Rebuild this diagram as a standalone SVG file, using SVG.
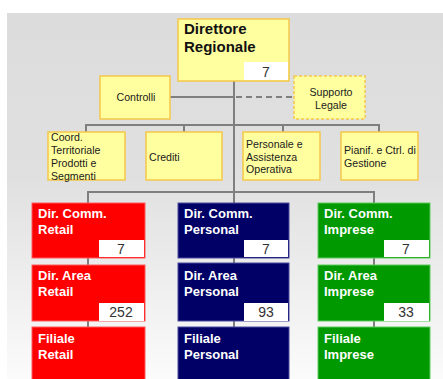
<svg xmlns="http://www.w3.org/2000/svg" width="443" height="379" viewBox="0 0 443 379">
<defs>
<linearGradient id="bg" x1="0" y1="0" x2="0" y2="1">
<stop offset="0" stop-color="#dcdcdc"/>
<stop offset="0.45" stop-color="#e0e0e0"/>
<stop offset="1" stop-color="#fbfbfb"/>
</linearGradient>
<style>
.y{fill:#ffffa0;stroke:#f5c84b;stroke-width:1.5}
.yd{fill:#ffffa0;stroke:#f5c84b;stroke-width:1.5;stroke-dasharray:3 2}
.t{font-family:"Liberation Sans",Arial,sans-serif;font-size:10.6px;fill:#1a1a1a}
.tc{font-family:"Liberation Sans",Arial,sans-serif;font-size:10.6px;fill:#1a1a1a;text-anchor:middle}
.h{font-family:"Liberation Sans",Arial,sans-serif;font-size:15px;font-weight:bold;fill:#111}
.w{font-family:"Liberation Sans",Arial,sans-serif;font-size:13px;font-weight:bold;fill:#fff}
.n{font-family:"Liberation Sans",Arial,sans-serif;font-size:14px;fill:#333;text-anchor:middle}
.nb{fill:#fff}
.red{fill:#ff0000;stroke:#ff5a5a;stroke-width:1}
.navy{fill:#000066;stroke:#4a4aa0;stroke-width:1}
.grn{fill:#009900;stroke:#5ccc5c;stroke-width:1}
.c{stroke:#7f7f7f;stroke-width:2;fill:none}
</style>
</defs>
<rect x="0" y="0" width="443" height="379" fill="#fff"/>
<rect x="7" y="13" width="436" height="366" fill="url(#bg)"/>

<g id="connectors">
<line class="c" x1="234" y1="81" x2="234" y2="203"/>
<line class="c" x1="170" y1="97" x2="234" y2="97"/>
<line class="c" x1="236" y1="97" x2="294" y2="97" stroke-dasharray="6 4"/>
<polyline class="c" points="86,132 86,125 379,125 379,132"/>
<line class="c" x1="184" y1="125" x2="184" y2="132"/>
<line class="c" x1="283" y1="125" x2="283" y2="132"/>
<polyline class="c" points="88,203 88,192 374,192 374,203"/>
<line class="c" x1="88" y1="258" x2="88" y2="265"/>
<line class="c" x1="88" y1="321" x2="88" y2="327"/>
<line class="c" x1="234" y1="258" x2="234" y2="263"/>
<line class="c" x1="234" y1="321" x2="234" y2="327"/>
<line class="c" x1="374" y1="258" x2="374" y2="265"/>
<line class="c" x1="374" y1="321" x2="374" y2="327"/>
</g>

<g id="direttore">
<rect class="y" x="178" y="19" width="111" height="62"/>
<text class="h" x="184" y="34">Direttore</text>
<text class="h" x="184" y="52">Regionale</text>
<rect class="nb" x="244" y="62" width="44" height="18"/>
<text class="n" x="266" y="77">7</text>
</g>

<g id="controlli">
<rect class="y" x="100" y="76" width="70" height="43"/>
<text class="tc" x="136" y="101">Controlli</text>
</g>

<g id="supporto">
<rect class="yd" x="294" y="76" width="71" height="43"/>
<text class="tc" x="331" y="96">Supporto</text>
<text class="tc" x="331" y="109">Legale</text>
</g>

<g id="coord">
<rect class="y" x="48" y="132" width="77" height="48"/>
<text class="t" x="51" y="141">Coord.</text>
<text class="t" x="51" y="154">Territoriale</text>
<text class="t" x="51" y="167">Prodotti e</text>
<text class="t" x="51" y="180">Segmenti</text>
</g>

<g id="crediti">
<rect class="y" x="146" y="132" width="76" height="48"/>
<text class="t" x="149" y="161">Crediti</text>
</g>

<g id="personale">
<rect class="y" x="243" y="132" width="77" height="48"/>
<text class="t" x="246" y="148">Personale e</text>
<text class="t" x="246" y="161">Assistenza</text>
<text class="t" x="246" y="173">Operativa</text>
</g>

<g id="pianif">
<rect class="y" x="341" y="132" width="77" height="48"/>
<text class="t" x="344" y="154">Pianif. e Ctrl. di</text>
<text class="t" x="344" y="167">Gestione</text>
</g>

<g id="dcr">
<rect class="red" x="32" y="203" width="113" height="55"/>
<text class="w" x="38" y="218">Dir. Comm.</text>
<text class="w" x="38" y="234">Retail</text>
<rect class="nb" x="99" y="240" width="45" height="17"/>
<text class="n" x="121" y="254">7</text>
</g>
<g id="dar">
<rect class="red" x="32" y="265" width="113" height="56"/>
<text class="w" x="38" y="280">Dir. Area</text>
<text class="w" x="38" y="296">Retail</text>
<rect class="nb" x="99" y="303" width="45" height="18"/>
<text class="n" x="121" y="317">252</text>
</g>
<g id="fr">
<rect class="red" x="32" y="327" width="113" height="60"/>
<text class="w" x="38" y="343">Filiale</text>
<text class="w" x="38" y="359">Retail</text>
</g>

<g id="dcp">
<rect class="navy" x="178" y="203" width="111" height="55"/>
<text class="w" x="184" y="218">Dir. Comm.</text>
<text class="w" x="184" y="234">Personal</text>
<rect class="nb" x="244" y="240" width="44" height="17"/>
<text class="n" x="266" y="254">7</text>
</g>
<g id="dap">
<rect class="navy" x="178" y="263" width="111" height="58"/>
<text class="w" x="184" y="280">Dir. Area</text>
<text class="w" x="184" y="296">Personal</text>
<rect class="nb" x="244" y="303" width="44" height="18"/>
<text class="n" x="266" y="317">93</text>
</g>
<g id="fp">
<rect class="navy" x="178" y="327" width="111" height="60"/>
<text class="w" x="184" y="343">Filiale</text>
<text class="w" x="184" y="359">Personal</text>
</g>

<g id="dci">
<rect class="grn" x="318" y="203" width="112" height="55"/>
<text class="w" x="324" y="218">Dir. Comm.</text>
<text class="w" x="324" y="234">Imprese</text>
<rect class="nb" x="384" y="240" width="45" height="17"/>
<text class="n" x="406" y="254">7</text>
</g>
<g id="dai">
<rect class="grn" x="318" y="265" width="112" height="56"/>
<text class="w" x="324" y="280">Dir. Area</text>
<text class="w" x="324" y="296">Imprese</text>
<rect class="nb" x="384" y="303" width="45" height="18"/>
<text class="n" x="406" y="317">33</text>
</g>
<g id="fi">
<rect class="grn" x="318" y="327" width="112" height="60"/>
<text class="w" x="324" y="343">Filiale</text>
<text class="w" x="324" y="359">Imprese</text>
</g>
</svg>
